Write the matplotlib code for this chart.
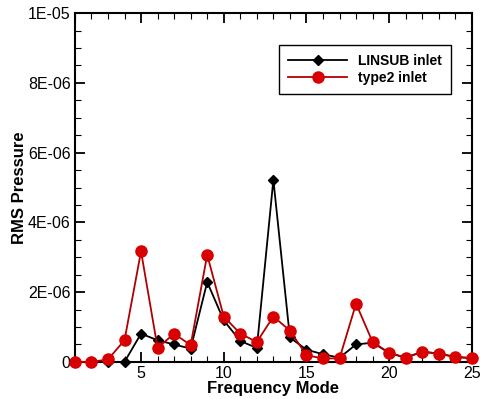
import matplotlib
matplotlib.use("Agg")
import matplotlib.pyplot as plt
from matplotlib.ticker import MultipleLocator, FuncFormatter

plt.rcParams['font.family'] = ['Liberation Sans', 'DejaVu Sans']

modes = list(range(1, 26))
linsub = [0, 0, 0, 0, 0.81, 0.62, 0.50, 0.38, 2.29, 1.19, 0.60, 0.40, 5.22,
          0.70, 0.35, 0.22, 0.12, 0.50, 0.55, 0.26, 0.12, 0.29, 0.24, 0.14, 0.11]
type2 = [0, 0, 0.07, 0.62, 3.17, 0.40, 0.81, 0.48, 3.07, 1.30, 0.81, 0.57, 1.30,
         0.90, 0.19, 0.10, 0.10, 1.67, 0.57, 0.26, 0.12, 0.29, 0.24, 0.14, 0.11]
linsub = [v * 1e-6 for v in linsub]
type2 = [v * 1e-6 for v in type2]


def fmt(v, pos):
    if abs(v) < 1e-12:
        return "0"
    m, e = f"{v:.0E}".split("E")
    return f"{m}E{e[0]}{int(e[1:]):02d}"


fig = plt.figure(figsize=(4.8, 3.99), dpi=100)
ax = fig.add_axes([0.156, 0.093, 0.827, 0.874])

ax.plot(modes, linsub, color='black', marker='D', markersize=5.5, lw=1.3,
        label='LINSUB inlet', clip_on=False, zorder=3)
ax.plot(modes, type2, color='#b00000', marker='o', markersize=8, lw=1.3,
        markerfacecolor='#d80000', markeredgecolor='#d80000', label='type2 inlet',
        clip_on=False, zorder=4)

ax.set_xlim(1, 25)
ax.set_ylim(0, 1e-5)
ax.xaxis.set_major_locator(MultipleLocator(5))
ax.xaxis.set_minor_locator(MultipleLocator(1))
ax.yaxis.set_major_locator(MultipleLocator(2e-6))
ax.yaxis.set_minor_locator(MultipleLocator(5e-7))
ax.yaxis.set_major_formatter(FuncFormatter(fmt))
ax.tick_params(which='both', direction='in', top=True, right=True, labelsize=11.5, pad=3)
ax.tick_params(which='major', length=7, width=1.3)
ax.tick_params(which='minor', length=4, width=0.8)
for s in ax.spines.values():
    s.set_linewidth(1.5)

ax.set_xlabel('Frequency Mode', fontsize=12, fontweight='bold', labelpad=0)
ax.set_ylabel('RMS Pressure', fontsize=12, fontweight='bold', labelpad=1)

leg = ax.legend(loc='upper right', bbox_to_anchor=(0.966, 0.93), fancybox=False,
                edgecolor='black', framealpha=1, handlelength=4.3,
                prop={'weight': 'bold', 'size': 10}, borderpad=0.65, labelspacing=0.25)
leg.get_frame().set_linewidth(1.0)

fig.savefig('out.png', dpi=100)
